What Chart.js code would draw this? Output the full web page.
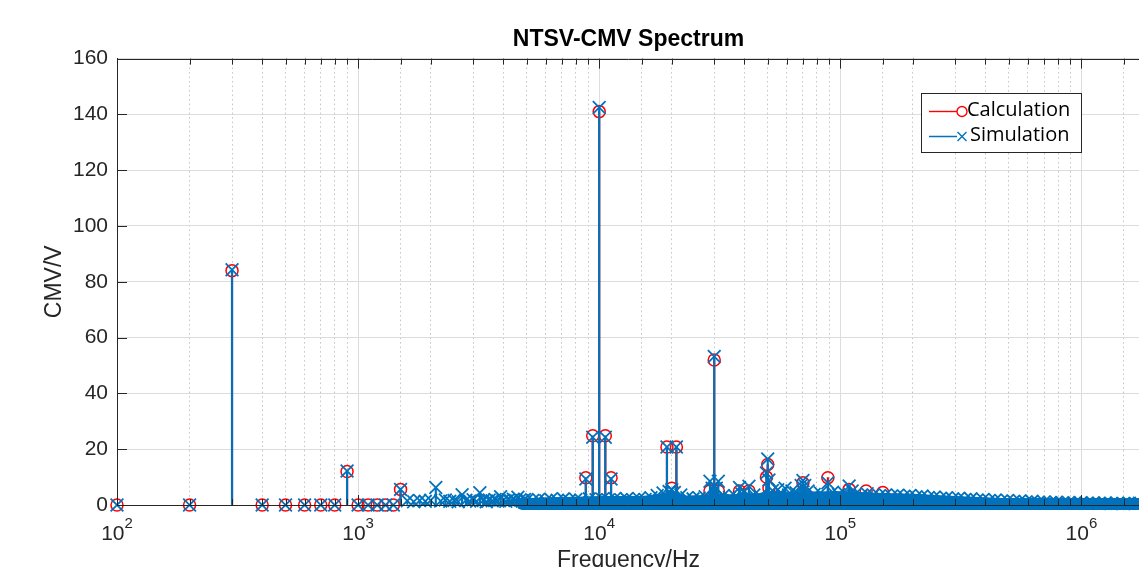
<!DOCTYPE html>
<html lang="en">
  <head>
    <meta charset="UTF-8" />
    <title>NTSV-CMV Spectrum</title>
    <script src="https://cdn.jsdelivr.net/npm/chart.js@4.4.0/dist/chart.umd.min.js"></script>
    <style>
      html, body { margin: 0; padding: 0; overflow: hidden; background: #fff; }
      canvas { display: block; }
    </style>
  </head>
  <body>
    <canvas id="spectrum" width="1160" height="580"></canvas>
    <script>
      // calculated harmonics (red circles)
      const calcFreq = [100, 200, 300, 400, 500, 600, 700, 800, 900, 1000, 1100, 1200, 1300, 1400, 1500,
        8800, 9400, 10000, 10600, 11200, 19100, 20000, 20900, 28800, 30000, 31200, 38200, 41800,
        49400, 50000, 50600, 70000, 88800, 108800, 128000, 150000];
      const calcVal = [0, 0, 84, 0, 0, 0, 0, 0, 12, 0, 0, 0, 0, 0, 5.6,
        9.8, 24.8, 141, 24.8, 9.8, 20.8, 6, 20.8, 5, 52, 5, 5, 5,
        10, 14.5, 6, 8, 9.8, 5.6, 5, 4.5];

      // simulated spectrum, dominant components (blue crosses)
      const simFreq = [100, 200, 300, 400, 500, 600, 700, 800, 900, 1000, 1100, 1200, 1300, 1400, 1500,
        2100, 2700, 3200, 3900, 4600, 8800, 9400, 10000, 10600, 11200, 19100, 20000, 20900,
        28800, 29400, 30000, 30600, 31200, 38200, 40000, 41800, 49400, 50000, 50600,
        55000, 59000, 63000, 68800, 70000, 71200, 88800, 108800, 112000];
      const simVal = [0, 0, 84.3, 0, 0, 0, 0, 0, 12.2, 0, 0, 0, 0, 0, 5.6,
        6.3, 3.7, 4.4, 3, 2.8, 9.3, 24.3, 142.5, 24.3, 9.3, 20.8, 5.5, 20.8,
        8.5, 6, 53.2, 6, 8.5, 6.3, 5, 6.7, 11.5, 16.5, 9,
        5.5, 6, 5, 7, 8.8, 7, 8, 6.8, 5];

      // simulated spectrum, broadband floor (sampled along the band)
      const floorFreq = [1600, 1700, 1800, 1900, 2000, 2200, 2300, 2400, 2500, 2600, 2800, 2900, 3000, 3100,
        3300, 3400, 3500, 3600, 3700, 3800, 4000, 4100, 4200, 4300, 4400, 4500, 4700, 4800, 4900, 5000,
        5300, 5600, 6000, 6300, 6700, 7100, 7500, 8000, 8400, 9100, 9700, 10300, 10900,
        11600, 12300, 13000, 13800, 14600, 15500, 16400, 17400, 18400, 19500, 20500, 21800, 23100,
        24500, 26000, 27500, 32700, 34700, 36700, 39000, 43800, 46400, 52300, 57000, 61000, 65500,
        73500, 77900, 82600, 92800, 98300, 104200, 115000, 121900, 129200, 137000, 145200, 153900,
        163100, 172900, 183300, 194300, 205900, 218300, 231400, 245300, 260000, 275600, 292100,
        309600, 328200, 347900, 368800, 390900, 414400, 439200, 465600, 493500, 523100, 554500,
        587800, 623100, 660500, 700100, 742100, 786600, 833800, 883800, 936800, 993000, 1052600,
        1115800, 1182700, 1253700, 1328900, 1408600, 1493100, 1582700, 1677600, 1740000];
      const floorVal = [1.5, 1.2, 1.6, 1.3, 1.7, 1.4, 1.8, 1.3, 1.6, 1.2, 1.7, 1.4, 1.9, 1.3,
        1.6, 1.2, 1.8, 1.5, 2.0, 1.4, 1.7, 1.3, 1.9, 1.5, 2.1, 1.6, 1.9, 1.4, 2.0, 1.7,
        1.6, 2.0, 1.5, 2.1, 1.7, 2.2, 1.6, 2.0, 1.8, 2.2, 1.9, 2.1, 1.8,
        2.3, 1.9, 2.2, 1.8, 2.3, 2.0, 2.6, 3.4, 4.3, 4.8, 4.5, 3.6, 2.6,
        2.2, 2.5, 3.0, 3.4, 2.7, 3.1, 4.0, 3.6, 3.2, 5.2, 4.2, 3.6, 4.4,
        5.0, 3.8, 4.3, 4.6, 3.8, 4.2, 3.8, 3.4, 4.0, 3.6, 3.3, 3.6,
        3.2, 3.5, 3.1, 3.4, 3.0, 3.2, 2.7, 2.9, 2.4, 2.6, 2.2,
        2.4, 2.0, 2.2, 1.8, 2.0, 1.6, 1.8, 1.4, 1.6, 1.3, 1.4,
        1.1, 1.3, 1.0, 1.1, 0.9, 1.0, 0.8, 0.9, 0.7, 0.8, 0.6,
        0.7, 0.6, 0.7, 0.5, 0.6, 0.5, 0.6, 0.5, 0.6];

      // solid part of the dense band of bins: upper edge, and the low bins around zero
      const bandFreq = [4500, 6000, 8000, 10000, 15000, 17000, 20000, 23000, 27000, 32000, 37000, 40000,
        45000, 50000, 55000, 62000, 70000, 80000, 95000, 110000, 140000, 200000, 300000, 500000,
        700000, 1000000, 1750000];
      const bandLevel = [2.2, 2.8, 3.0, 3.2, 3.2, 3.8, 5.0, 3.4, 3.6, 4.0, 3.8, 4.5,
        4.0, 5.0, 4.8, 4.6, 5.0, 4.8, 5.0, 4.8, 4.4, 4.0, 3.2, 2.4,
        2.0, 1.7, 1.5];
      const baseFreq = [4800, 1750000];
      const baseLevel = [0.4, 0.4];

      const xExponents = [2, 3, 4, 5, 6];

      const BLUE = "#0072BD";
      const RED = "#FF0000";
      const AXIS = "#262626";
      const FONT = "'Liberation Sans', Arial, sans-serif";

      const pts = (f, v) => f.map((x, i) => ({ x: x, y: v[i] }));
      const calcPts = pts(calcFreq, calcVal);
      const simPts = pts(simFreq, simVal).concat(pts(floorFreq, floorVal));

      const isDecade = (v) => Math.abs(Math.log10(v) - Math.round(Math.log10(v))) < 1e-9;

      // box edges and inside ticks, drawn over the data like the matlab axes
      const axesBox = {
        id: "axesBox",
        afterDatasetsDraw(chart) {
          const c = chart.ctx;
          const a = chart.chartArea;
          const xs = chart.scales.x;
          const ys = chart.scales.y;
          const top = Math.round(a.top) + 0.5;
          const bottom = Math.round(a.bottom) + 0.5;
          c.save();
          c.strokeStyle = AXIS;
          c.lineWidth = 1;
          c.beginPath();
          c.moveTo(a.left, top);
          c.lineTo(a.right, top);
          c.moveTo(a.left, bottom);
          c.lineTo(a.right, bottom);
          c.moveTo(Math.round(a.left) + 0.5, a.top);
          c.lineTo(Math.round(a.left) + 0.5, a.bottom);
          xs.ticks.forEach((t) => {
            if (t.value <= xs.min || t.value >= xs.max) return;
            const px = Math.round(xs.getPixelForValue(t.value)) + 0.5;
            const len = isDecade(t.value) ? 10 : 6;
            c.moveTo(px, a.top);
            c.lineTo(px, a.top + len);
            c.moveTo(px, a.bottom);
            c.lineTo(px, a.bottom - len);
          });
          ys.ticks.forEach((t) => {
            const py = Math.round(ys.getPixelForValue(t.value)) + 0.5;
            c.moveTo(a.left, py);
            c.lineTo(a.left + 10, py);
          });
          c.stroke();
          c.restore();
        },
        afterDraw(chart) {
          // 10^n labels with raised exponents
          const c = chart.ctx;
          const xs = chart.scales.x;
          c.save();
          c.fillStyle = AXIS;
          c.textBaseline = "alphabetic";
          c.textAlign = "left";
          xExponents.forEach((e) => {
            const px = xs.getPixelForValue(Math.pow(10, e));
            c.font = "21px " + FONT;
            const wBase = c.measureText("10").width;
            c.font = "15px " + FONT;
            const wExp = c.measureText(String(e)).width;
            const x0 = px - (wBase + wExp) / 2;
            c.font = "21px " + FONT;
            c.fillText("10", x0, 540);
            c.font = "15px " + FONT;
            c.fillText(String(e), x0 + wBase, 528);
          });
          c.restore();
        },
      };

      // boxed legend, top right
      const legendBox = {
        id: "legendBox",
        afterDraw(chart) {
          const c = chart.ctx;
          c.save();
          c.fillStyle = "#fff";
          c.fillRect(921.5, 93.5, 160, 59);
          c.strokeStyle = AXIS;
          c.lineWidth = 1;
          c.strokeRect(921.5, 93.5, 160, 59);
          c.font = "20px 'Open Sans', sans-serif";
          c.textBaseline = "middle";
          c.fillStyle = "#000";
          // calculation entry
          c.strokeStyle = RED;
          c.lineWidth = 1.4;
          c.beginPath();
          c.moveTo(929, 111.5);
          c.lineTo(957, 111.5);
          c.stroke();
          c.beginPath();
          c.arc(962, 111.5, 5, 0, Math.PI * 2);
          c.stroke();
          c.fillText(chart.data.datasets[4].label, 967, 110);
          // simulation entry
          c.strokeStyle = BLUE;
          c.beginPath();
          c.moveTo(929, 136.5);
          c.lineTo(957, 136.5);
          c.moveTo(957.5, 132);
          c.lineTo(966.5, 141);
          c.moveTo(966.5, 132);
          c.lineTo(957.5, 141);
          c.stroke();
          c.fillText(chart.data.datasets[0].label, 970, 135);
          c.restore();
        },
      };

      const ctx = document.getElementById("spectrum").getContext("2d");

      new Chart(ctx, {
        type: "scatter",
        data: {
          datasets: [
            {
              type: "scatter",
              label: "Simulation",
              data: simPts,
              pointStyle: "crossRot",
              pointRadius: 9,
              borderColor: BLUE,
              backgroundColor: BLUE,
              pointBorderWidth: 1.8,
              clip: false,
              order: 0,
            },
            {
              type: "bar",
              label: "sim stems",
              data: simPts,
              backgroundColor: BLUE,
              barThickness: 1.5,
              grouped: false,
              order: 1,
            },
            {
              type: "line",
              label: "band",
              data: pts(bandFreq, bandLevel),
              borderWidth: 0,
              borderColor: BLUE,
              pointRadius: 0,
              backgroundColor: BLUE,
              fill: "origin",
              order: 2,
            },
            {
              type: "line",
              label: "band base",
              data: pts(baseFreq, baseLevel),
              borderWidth: 12,
              borderColor: BLUE,
              borderCapStyle: "round",
              pointRadius: 0,
              fill: false,
              clip: false,
              order: 2,
            },
            {
              type: "scatter",
              label: "Calculation",
              data: calcPts,
              pointStyle: "circle",
              pointRadius: 6,
              borderColor: RED,
              backgroundColor: "rgba(0,0,0,0)",
              pointBorderWidth: 1.5,
              clip: false,
              order: 3,
            },
            {
              type: "bar",
              label: "calc stems",
              data: calcPts,
              backgroundColor: RED,
              barThickness: 1.5,
              grouped: false,
              order: 4,
            },
          ],
        },
        options: {
          responsive: false,
          animation: false,
          layout: { padding: { left: 0, right: 20, top: 0, bottom: 0 } },
          plugins: {
            legend: { display: false },
            tooltip: { enabled: false },
            title: {
              display: true,
              text: "NTSV-CMV Spectrum",
              fullSize: false,
              color: "#000",
              font: { family: FONT, size: 23, weight: "bold" },
              padding: { top: 26, bottom: 5 },
            },
          },
          scales: {
            x: {
              type: "logarithmic",
              min: 100,
              max: 1750000,
              offset: false,
              afterFit: (s) => { s.height = 75; },
              ticks: { display: false },
              grid: {
                offset: false,
                drawTicks: false,
                color: (c) => (c.tick && isDecade(c.tick.value) ? "#dcdcdc" : "#c4c4c4"),
              },
              border: {
                color: AXIS,
                dash: (c) => (c.tick && !isDecade(c.tick.value) ? [1.5, 3] : []),
              },
              title: {
                display: true,
                text: "Frequency/Hz",
                color: AXIS,
                font: { family: FONT, size: 23 },
                padding: { top: 0, bottom: 6 },
              },
            },
            y: {
              min: 0,
              max: 160,
              afterFit: (s) => { s.width = 117; },
              ticks: {
                stepSize: 20,
                padding: 9,
                color: AXIS,
                font: { family: FONT, size: 21 },
              },
              grid: { drawTicks: false, color: "#dcdcdc" },
              border: { color: AXIS },
              title: {
                display: true,
                text: "CMV/V",
                color: AXIS,
                font: { family: FONT, size: 23 },
                padding: { top: 41, bottom: 0 },
              },
            },
          },
        },
        plugins: [axesBox, legendBox],
      });
    </script>
  </body>
</html>
